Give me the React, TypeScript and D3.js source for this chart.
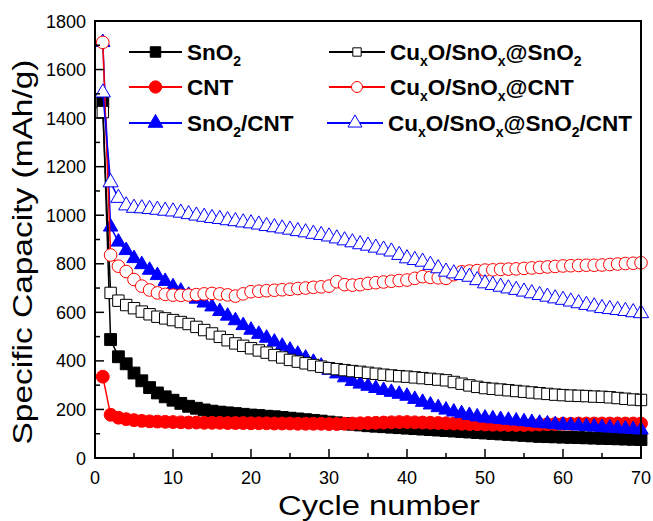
import React from 'react';
import * as d3 from 'd3';

// cycle index 1..70
const cycles = d3.range(1, 71);

const sno2 = [
  1465, 488, 417, 388, 350, 318, 290, 268, 252, 238,
  225, 213, 205, 198, 193, 189, 186, 183, 180, 177,
  175, 172, 170, 167, 164, 161, 158, 155, 152, 148,
  145, 142, 139, 136, 133, 131, 129, 127, 125, 123,
  121, 119, 117, 115, 113, 111, 109, 107, 105, 103,
  101, 99, 97, 95, 93, 91, 89, 88, 87, 86,
  85, 84, 83, 82, 81, 80, 79, 78, 77, 76,
];

const cnt = [
  335, 178, 166, 160, 156, 153, 151, 150, 149, 148,
  147, 146, 146, 145, 145, 145, 144, 144, 144, 143,
  143, 143, 142, 142, 142, 141, 141, 141, 141, 140,
  140, 141, 142, 143, 144, 145, 146, 147, 148, 148,
  147, 146, 145, 144, 143, 142, 141, 140, 139, 138,
  137, 137, 136, 136, 136, 137, 138, 139, 140, 141,
  141, 142, 142, 142, 142, 142, 142, 142, 142, 142,
];

const sno2Cnt = [
  1712, 952, 890, 855, 822, 797, 774, 752, 728, 706,
  688, 671, 655, 639, 623, 604, 585, 566, 546, 527,
  510, 494, 478, 461, 445, 428, 412, 395, 379, 362,
  347, 331, 316, 305, 296, 287, 279, 271, 263, 255,
  242, 230, 219, 208, 198, 190, 183, 176, 170, 165,
  162, 159, 156, 153, 150, 147, 144, 141, 138, 136,
  134, 132, 130, 128, 126, 124, 122, 120, 118, 116,
];

const cuSnO2 = [
  1425, 680, 648, 630, 617, 603, 592, 582, 575, 568,
  560, 552, 540, 527, 513, 499, 485, 472, 462, 452,
  443, 434, 424, 414, 404, 397, 390, 383, 376, 370,
  366, 362, 358, 355, 351, 347, 343, 340, 337, 335,
  332, 329, 326, 323, 320, 313, 306, 299, 293, 288,
  285, 282, 279, 276, 273, 270, 267, 264, 261, 259,
  257, 256, 255, 253, 252, 250, 247, 244, 241, 239,
];

const cuCnt = [
  1712, 836, 790, 768, 735, 708, 692, 680, 674, 671,
  670, 671, 673, 676, 678, 676, 672, 667, 676, 685,
  687, 689, 691, 693, 695, 698, 700, 703, 705, 708,
  726, 714, 712, 714, 719, 722, 725, 728, 731, 733,
  740, 747, 744, 742, 740, 755, 767, 770, 772, 774,
  775, 777, 778, 779, 781, 783, 785, 787, 789, 791,
  792, 793, 794, 794, 795, 797, 799, 801, 802, 804,
];

const cuSnO2Cnt = [
  1505, 1135, 1071, 1040, 1030, 1028, 1025, 1022, 1018, 1015,
  1010, 1004, 998, 993, 988, 984, 979, 975, 970, 966,
  961, 955, 950, 945, 940, 934, 929, 923, 918, 912,
  904, 896, 888, 880, 874, 866, 858, 850, 836, 822,
  815, 808, 795, 781, 767, 760, 753, 746, 732, 719,
  712, 705, 698, 692, 685, 678, 671, 664, 657, 651,
  644, 637, 630, 624, 617, 613, 609, 605, 600, 596,
];

const xTicks = [0, 10, 20, 30, 40, 50, 60, 70];
const yTicks = [0, 200, 400, 600, 800, 1000, 1200, 1400, 1600, 1800];

// label parts: [text, isSubscript]
type Part = [string, boolean];
const series = [
  { label: [['SnO', false], ['2', true]] as Part[], values: sno2, color: '#000000', shape: 'square', filled: true },
  { label: [['CNT', false]] as Part[], values: cnt, color: '#ff0000', shape: 'circle', filled: true },
  { label: [['SnO', false], ['2', true], ['/CNT', false]] as Part[], values: sno2Cnt, color: '#0000ff', shape: 'triangle', filled: true },
  { label: [['Cu', false], ['x', true], ['O/SnO', false], ['x', true], ['@SnO', false], ['2', true]] as Part[], values: cuSnO2, color: '#000000', shape: 'square', filled: false },
  { label: [['Cu', false], ['x', true], ['O/SnO', false], ['x', true], ['@CNT', false]] as Part[], values: cuCnt, color: '#ff0000', shape: 'circle', filled: false },
  { label: [['Cu', false], ['x', true], ['O/SnO', false], ['x', true], ['@SnO', false], ['2', true], ['/CNT', false]] as Part[], values: cuSnO2Cnt, color: '#0000ff', shape: 'triangle', filled: false },
];

const W = 653;
const H = 521;
const plot = { left: 95, right: 641, top: 21, bottom: 458 };
const font = '"Liberation Sans", Arial, sans-serif';

const x = d3.scaleLinear().domain([0, 70]).range([plot.left, plot.right]);
const y = d3.scaleLinear().domain([0, 1800]).range([plot.bottom, plot.top]);

const plotSymbol = (shape: string, filled: boolean) => {
  if (shape === 'square') return d3.symbol(d3.symbolSquare, filled ? 140 : 130)();
  if (shape === 'circle') return d3.symbol(d3.symbolCircle, filled ? 130 : 125)();
  return d3.symbol(d3.symbolTriangle, filled ? 90 : 100)();
};

const legendSymbol = (shape: string, filled: boolean) => {
  if (shape === 'square') return d3.symbol(d3.symbolSquare, filled ? 110 : 70)();
  if (shape === 'circle') return d3.symbol(d3.symbolCircle, filled ? 120 : 95)();
  return d3.symbol(d3.symbolTriangle, filled ? 95 : 85)();
};

const line = d3
  .line<number>()
  .x((_, i) => x(cycles[i]))
  .y((d) => y(d));

const LegendText = ({ parts, tx, ty }: { parts: Part[]; tx: number; ty: number }) => {
  let sub = false;
  return (
    <text x={tx} y={ty} fontFamily={font} fontWeight="bold" fontSize={22.5} fill="#000">
      {parts.map(([t, isSub], i) => {
        let dy = 0;
        if (isSub && !sub) dy = 6;
        if (!isSub && sub) dy = -6;
        sub = isSub;
        return (
          <tspan key={i} dy={dy} fontSize={isSub ? 14 : 22.5}>
            {t}
          </tspan>
        );
      })}
    </text>
  );
};

export default function App() {
  const legendPos = [
    { lx0: 129, lx1: 182, tx: 187, ty: 60 },
    { lx0: 129, lx1: 182, tx: 187, ty: 95 },
    { lx0: 129, lx1: 182, tx: 187, ty: 131 },
    { lx0: 329, lx1: 385, tx: 390, ty: 60 },
    { lx0: 329, lx1: 385, tx: 390, ty: 95 },
    { lx0: 327, lx1: 383, tx: 388, ty: 131 },
  ];
  const legendY = [52, 87, 123, 52, 87, 123];

  return (
    <svg width={W} height={H} style={{ position: 'absolute', left: 0, top: 0, background: '#fff' }}>
      <rect width={W} height={H} fill="#fff" />

      {/* series */}
      {series.map((s, si) => (
        <g key={si}>
          <path d={line(s.values) || ''} fill="none" stroke={s.color} strokeWidth={1.5} />
          {s.values.map((v, i) => (
            <path
              key={i}
              d={plotSymbol(s.shape, s.filled) || ''}
              transform={`translate(${x(cycles[i])},${y(v)})`}
              fill={s.filled ? s.color : '#fff'}
              stroke={s.color}
              strokeWidth={1}
            />
          ))}
        </g>
      ))}

      {/* frame */}
      <rect
        x={plot.left}
        y={plot.top}
        width={plot.right - plot.left}
        height={plot.bottom - plot.top}
        fill="none"
        stroke="#000"
        strokeWidth={2}
      />

      {/* x ticks */}
      {x.ticks(14).map((t) => (
        <line
          key={`xt${t}`}
          x1={x(t)}
          x2={x(t)}
          y1={plot.bottom}
          y2={plot.bottom - (t % 10 === 0 ? 9 : 5)}
          stroke="#000"
          strokeWidth={1.5}
        />
      ))}
      {xTicks.map((t) => (
        <text key={`xl${t}`} x={x(t)} y={484} textAnchor="middle" fontFamily={font} fontSize={18}>
          {t}
        </text>
      ))}

      {/* y ticks */}
      {y.ticks(18).map((t) => (
        <line
          key={`yt${t}`}
          x1={plot.left}
          x2={plot.left + (t % 200 === 0 ? 9 : 5)}
          y1={y(t)}
          y2={y(t)}
          stroke="#000"
          strokeWidth={1.5}
        />
      ))}
      {yTicks.map((t) => (
        <text key={`yl${t}`} x={86} y={y(t) + 6.5} textAnchor="end" fontFamily={font} fontSize={18}>
          {t}
        </text>
      ))}

      {/* axis titles */}
      <text
        x={379}
        y={515}
        textAnchor="middle"
        fontFamily={font}
        fontSize={27}
        textLength={202}
        lengthAdjust="spacingAndGlyphs"
      >
        Cycle number
      </text>
      <text
        transform="translate(32,252) rotate(-90)"
        textAnchor="middle"
        fontFamily={font}
        fontSize={27}
        textLength={385}
        lengthAdjust="spacingAndGlyphs"
      >
        Specific Capacity (mAh/g)
      </text>

      {/* legend */}
      {series.map((s, si) => {
        const p = legendPos[si];
        const ly = legendY[si];
        return (
          <g key={`lg${si}`}>
            <line x1={p.lx0} x2={p.lx1} y1={ly} y2={ly} stroke={s.color} strokeWidth={2} />
            <path
              d={legendSymbol(s.shape, s.filled) || ''}
              transform={`translate(${(p.lx0 + p.lx1) / 2},${ly})`}
              fill={s.filled ? s.color : '#fff'}
              stroke={s.color}
              strokeWidth={1}
            />
            <LegendText parts={s.label} tx={p.tx} ty={p.ty} />
          </g>
        );
      })}
    </svg>
  );
}
